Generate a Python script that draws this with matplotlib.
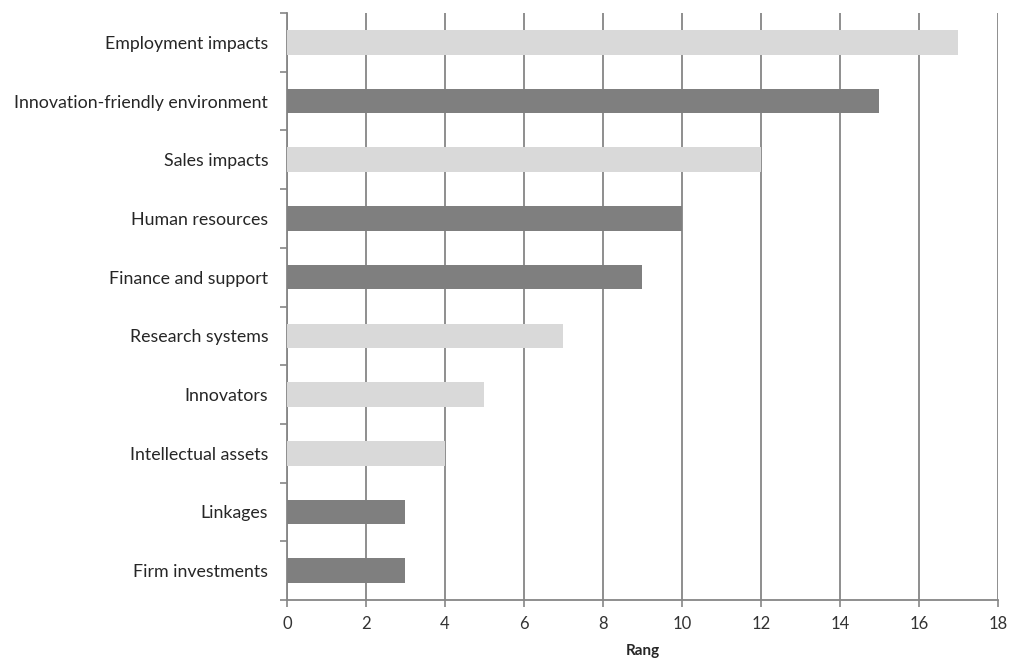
import matplotlib
matplotlib.use("Agg")
import matplotlib.pyplot as plt
import numpy as np

# Ranking of innovation dimensions (top to bottom)
categories = [
    "Employment impacts",
    "Innovation-friendly environment",
    "Sales impacts",
    "Human resources",
    "Finance and support",
    "Research systems",
    "Innovators",
    "Intellectual assets",
    "Linkages",
    "Firm investments",
]
values = [17, 15, 12, 10, 9, 7, 5, 4, 3, 3]
# 1 = dark bar, 0 = light bar
dark_flags = [0, 1, 0, 1, 1, 0, 0, 0, 1, 1]
x_ticks = [0, 2, 4, 6, 8, 10, 12, 14, 16, 18]
x_label = "Rang"

LIGHT = "#d9d9d9"
DARK = "#7f7f7f"
GRID = "#868686"

plt.rcParams["font.family"] = ["Lato", "DejaVu Sans"]

fig = plt.figure(figsize=(10.17, 6.61), dpi=100)
ax = fig.add_axes([0.2822, 0.0923, 0.9813 - 0.2822, 0.9803 - 0.0923])

n = len(categories)
pos = np.arange(n)
colors = [DARK if d else LIGHT for d in dark_flags]
ax.barh(pos, values, height=0.42, color=colors, zorder=3)

ax.set_ylim(n - 0.5, -0.5)
ax.set_xlim(0, 18)

ax.set_xticks(x_ticks)
ax.set_xticklabels([str(t) for t in x_ticks], fontsize=12, color="#333333")
ax.set_yticks(pos)
ax.set_yticklabels(categories, fontsize=12.8, color="#262626")
ax.tick_params(axis="y", which="major", length=0, pad=13.5)
ax.set_yticks(np.arange(-0.5, n + 0.5, 1), minor=True)
ax.tick_params(axis="y", which="minor", length=5, width=1.2, color=GRID, direction="out")
ax.tick_params(axis="x", which="major", length=5, width=1.2, color=GRID, direction="out", pad=6.5)

ax.grid(axis="x", color=GRID, linewidth=1.3, zorder=0)
ax.set_axisbelow(True)

for side in ["top", "right"]:
    ax.spines[side].set_visible(False)
for side in ["left", "bottom"]:
    ax.spines[side].set_color(GRID)
    ax.spines[side].set_linewidth(1.3)

ax.set_xlabel(x_label, fontsize=11, fontweight="bold", color="#262626", labelpad=9)

fig.savefig("out.png", dpi=100, facecolor="white")
